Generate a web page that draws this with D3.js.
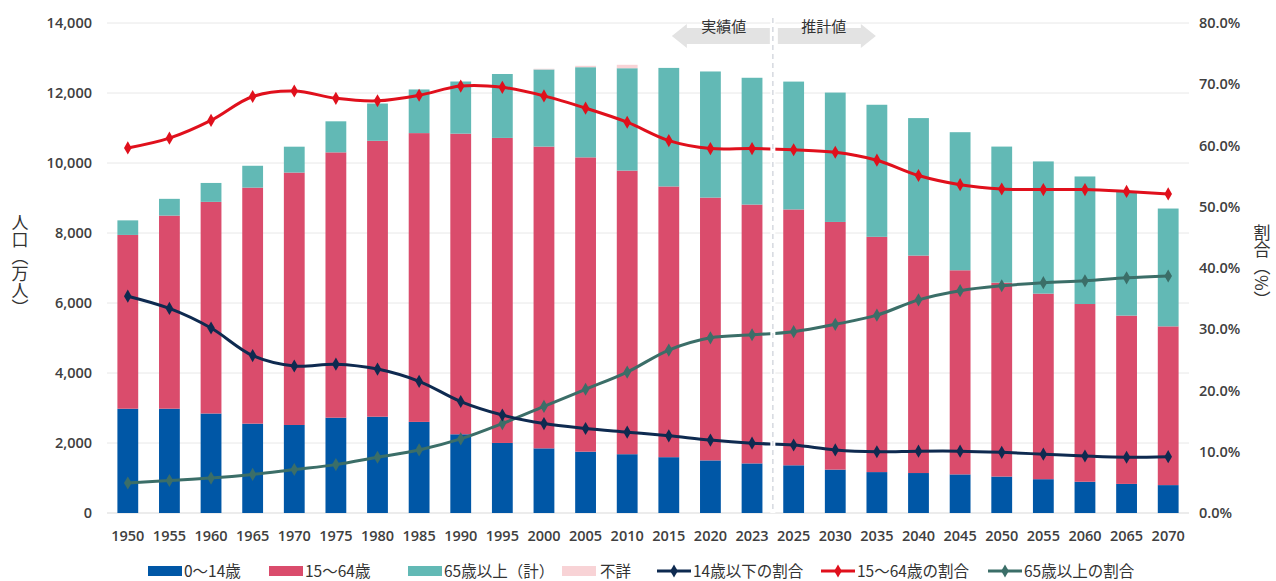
<!DOCTYPE html>
<html>
<head>
<meta charset="utf-8">
<script src="https://cdn.jsdelivr.net/npm/d3@7"></script>
<style>
  body { margin: 0; background: #fff; }
  svg { display: block; font-family: "Open Sans", "Noto Sans CJK JP", sans-serif; }
</style>
</head>
<body>
<svg width="1276" height="581"></svg>
<script>
// categories
var years = ["1950","1955","1960","1965","1970","1975","1980","1985","1990","1995",
             "2000","2005","2010","2015","2020","2023","2025","2030","2035","2040",
             "2045","2050","2055","2060","2065","2070"];

// population (万人)
var age0_14  = [2979,2980,2843,2553,2515,2723,2751,2603,2249,2001,
                1847,1752,1680,1595,1503,1417,1363,1240,1169,1142,
                1103,1041,966,893,831,797];
var age15_64 = [4966,5517,6047,6744,7212,7581,7883,8251,8590,8716,
                8622,8409,8103,7735,7509,7395,7310,7076,6722,6213,
                5832,5540,5302,5078,4809,4535];
var age65    = [416,479,540,624,739,887,1065,1247,1489,1826,
                2204,2576,2925,3387,3603,3623,3653,3696,3773,3928,
                3945,3888,3777,3644,3532,3367];
var unknown  = [0,0,0,0,0,0,0,0,0,0,
                20,40,98,0,0,0,0,0,0,0,
                0,0,0,0,0,0];

// shares (%)
var share0_14  = [35.4,33.4,30.2,25.7,24.0,24.3,23.5,21.5,18.2,16.0,
                  14.6,13.8,13.2,12.6,11.9,11.4,11.1,10.3,10.0,10.1,
                  10.1,9.9,9.6,9.3,9.1,9.2];
var share15_64 = [59.6,61.2,64.1,68.0,68.9,67.7,67.3,68.2,69.7,69.5,
                  68.1,66.1,63.8,60.8,59.5,59.5,59.3,58.9,57.6,55.1,
                  53.6,52.9,52.8,52.8,52.5,52.1];
var share65    = [4.9,5.3,5.7,6.3,7.1,7.9,9.1,10.3,12.1,14.6,
                  17.4,20.2,23.0,26.6,28.6,29.1,29.6,30.8,32.3,34.8,
                  36.3,37.1,37.6,37.9,38.4,38.7];

var leftTicks  = [0,2000,4000,6000,8000,10000,12000,14000];
var rightTicks = [0,10,20,30,40,50,60,70,80];

var colors = {
    a: "#0057a6", b: "#da4c6c", c: "#62b9b5", u: "#f8d3d6",
    l1: "#0e2a50", l2: "#e0101c", l3: "#3b6e68"
};

var svg = d3.select("svg");
var plotL = 107, plotR = 1189, plotT = 23, plotB = 513;

var x = d3.scaleBand().domain(years).range([plotL, plotR]).paddingInner(0.5).paddingOuter(0.25);
var y = d3.scaleLinear().domain([0, 14000]).range([plotB, plotT]);
var y2 = d3.scaleLinear().domain([0, 80]).range([plotB, plotT]);
var cx = function(d, i) { return x(years[i]) + x.bandwidth() / 2; };

// grid
svg.append("g")
    .selectAll("line")
    .data(leftTicks)
    .enter()
    .append("line")
    .attr("x1", plotL)
    .attr("x2", plotR)
    .attr("y1", d => y(d))
    .attr("y2", d => y(d))
    .attr("stroke", d => d === 0 ? "#d9d9d9" : "#e8e8e8")
    .attr("stroke-width", 1);

// stacked bars
var rows = years.map(function(yr, i) {
    return { year: yr, a: age0_14[i], b: age15_64[i], c: age65[i], u: unknown[i] };
});
var stack = d3.stack().keys(["a", "b", "c", "u"])(rows);

svg.append("g")
    .selectAll("g")
    .data(stack)
    .enter()
    .append("g")
    .attr("fill", d => colors[d.key])
    .selectAll("rect")
    .data(d => d)
    .enter()
    .append("rect")
    .attr("x", d => x(d.data.year))
    .attr("width", x.bandwidth())
    .attr("y", d => y(d[1]))
    .attr("height", d => y(d[0]) - y(d[1]));

// lines
function drawLine(values, color) {
    var g = svg.append("g");
    var lineMaker = d3.line()
        .curve(d3.curveCatmullRom.alpha(0.5))
        .x(cx)
        .y(d => y2(d));
    g.append("path")
        .attr("fill", "none")
        .attr("stroke", color)
        .attr("stroke-width", 3)
        .attr("d", lineMaker(values));
    g.selectAll("path.m")
        .data(values)
        .enter()
        .append("path")
        .attr("class", "m")
        .attr("fill", color)
        .attr("transform", (d, i) => `translate(${cx(d, i)},${y2(d)})`)
        .attr("d", d3.symbol(d3.symbolDiamond, 50)());
}
drawLine(share65, colors.l3);
drawLine(share15_64, colors.l2);
drawLine(share0_14, colors.l1);

// divider between actual and projected
var divX = (cx(0, years.indexOf("2023")) + cx(0, years.indexOf("2025"))) / 2;
svg.append("line")
    .attr("x1", divX).attr("x2", divX)
    .attr("y1", 18).attr("y2", plotB)
    .attr("stroke", "#fff").attr("stroke-width", 5);
svg.append("line")
    .attr("x1", divX).attr("x2", divX)
    .attr("y1", 18).attr("y2", plotB)
    .attr("stroke", "#d6d9e0").attr("stroke-width", 1.5)
    .attr("stroke-dasharray", "5,4");

// arrows
function arrow(x0, dir, label) {
    var len = 98, head = 15, by0 = 28, by1 = 44, hy0 = 24, hy1 = 48;
    var xt = x0 + dir * len, xb = xt - dir * head;
    var pts = [[x0, by0], [xb, by0], [xb, hy0], [xt, (hy0 + hy1) / 2], [xb, hy1], [xb, by1], [x0, by1]];
    svg.append("path")
        .attr("d", d3.line()(pts) + "Z")
        .attr("fill", "#e3e3e3");
    svg.append("text")
        .attr("x", x0 + dir * 46)
        .attr("y", 32)
        .attr("text-anchor", "middle")
        .attr("font-family", "Noto Sans CJK JP")
        .attr("font-size", 15)
        .attr("fill", "#333")
        .text(label);
}
arrow(divX - 3, -1, "実績値");
arrow(divX + 5, 1, "推計値");

// axes
var axisL = svg.append("g")
    .attr("transform", `translate(${plotL},0)`)
    .call(d3.axisLeft(y).tickValues(leftTicks).tickSize(0).tickPadding(15).tickFormat(d3.format(",")));
var axisR = svg.append("g")
    .attr("transform", `translate(${plotR},0)`)
    .call(d3.axisRight(y2).tickValues(rightTicks).tickSize(0).tickPadding(10).tickFormat(d => d.toFixed(1) + "%"));
var axisB = svg.append("g")
    .attr("transform", `translate(0,${plotB})`)
    .call(d3.axisBottom(x).tickSize(0).tickPadding(18));

[axisL, axisR, axisB].forEach(function(a) {
    a.select(".domain").remove();
    a.selectAll("text")
        .attr("font-family", "Open Sans")
        .attr("font-weight", 600)
        .attr("font-size", 14.5)
        .attr("fill", "#404040");
});

// axis titles
svg.append("text")
    .attr("x", 20).attr("y", 214)
    .attr("style", "writing-mode: vertical-rl")
    .attr("font-family", "Noto Sans CJK JP")
    .attr("font-size", 17)
    .attr("fill", "#333")
    .text("人口（万人）");
svg.append("text")
    .attr("x", 1262).attr("y", 224)
    .attr("style", "writing-mode: vertical-rl")
    .attr("font-family", "Noto Sans CJK JP")
    .attr("font-size", 17)
    .attr("fill", "#333")
    .text("割合（%）");

// legend
var legend = [
    { label: "0～14歳", color: colors.a, type: "rect", x: 148 },
    { label: "15～64歳", color: colors.b, type: "rect", x: 269 },
    { label: "65歳以上（計）", color: colors.c, type: "rect", x: 408 },
    { label: "不詳", color: colors.u, type: "rect", x: 562 },
    { label: "14歳以下の割合", color: colors.l1, type: "line", x: 657 },
    { label: "15～64歳の割合", color: colors.l2, type: "line", x: 821 },
    { label: "65歳以上の割合", color: colors.l3, type: "line", x: 988 }
];
var lg = svg.append("g").attr("transform", "translate(0,571)");
legend.forEach(function(d) {
    if (d.type === "rect") {
        lg.append("rect").attr("x", d.x).attr("y", -5).attr("width", 34).attr("height", 10).attr("fill", d.color);
    } else {
        lg.append("line").attr("x1", d.x).attr("x2", d.x + 34).attr("y1", 0).attr("y2", 0)
            .attr("stroke", d.color).attr("stroke-width", 3);
        lg.append("path").attr("transform", `translate(${d.x + 17},0)`)
            .attr("fill", d.color).attr("d", d3.symbol(d3.symbolDiamond, 50)());
    }
    lg.append("text")
        .attr("x", d.x + (d.label === "不詳" ? 38 : 36))
        .attr("y", 0)
        .attr("dy", "0.36em")
        .attr("font-family", "Noto Sans CJK JP")
        .attr("font-size", 15.5)
        .attr("fill", "#333")
        .text(d.label);
});
</script>
</body>
</html>
